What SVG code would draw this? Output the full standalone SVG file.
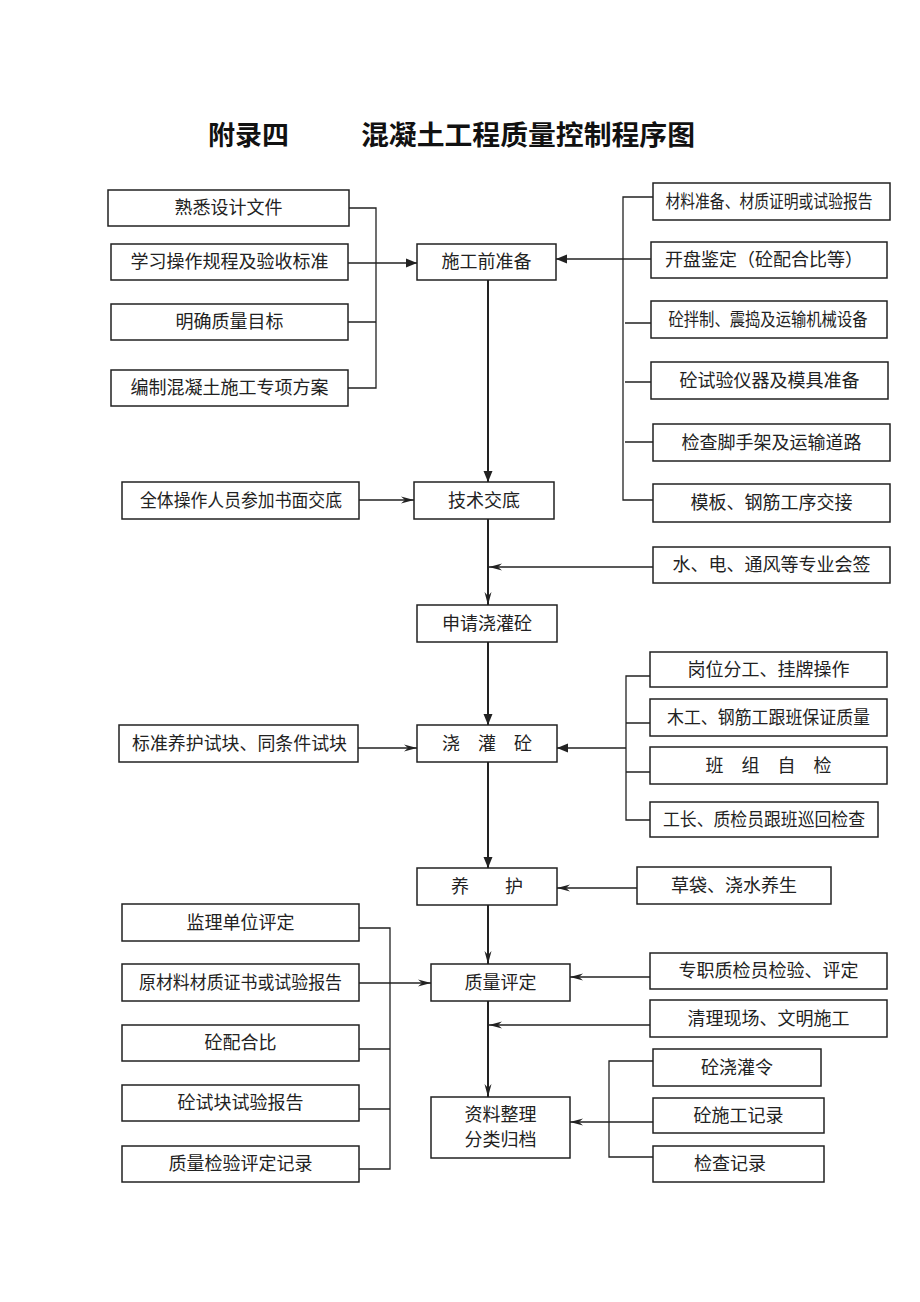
<svg xmlns="http://www.w3.org/2000/svg" width="920" height="1302" viewBox="0 0 920 1302">
<style>
.b{fill:#fff;stroke:#222;stroke-width:1.5}
.t{font-family:"Liberation Serif","Noto Sans CJK SC",serif;font-size:18px;fill:#222;text-anchor:middle}
.h{font-family:"Liberation Serif","Noto Sans CJK SC",serif;font-size:27px;font-weight:bold;fill:#111}
.l{fill:none;stroke:#222;stroke-width:1.3}
.m{fill:none;stroke:#222;stroke-width:2}
.f{marker-end:url(#af)}
.o{marker-end:url(#ao)}
</style>
<defs>
<marker id="af" markerUnits="userSpaceOnUse" markerWidth="12" markerHeight="10" refX="11" refY="5" orient="auto">
<path d="M0,0.5 L11,5 L0,9.5 z" fill="#222"/>
</marker>
<marker id="ao" markerUnits="userSpaceOnUse" markerWidth="14" markerHeight="10" refX="13" refY="5" orient="auto">
<path d="M0,1.5 L13,5 L0,8.5 L4,5 z" fill="#222"/>
</marker>
</defs>
<rect width="920" height="1302" fill="#fff"/>
<g id="title">
<text class="h" x="208" y="145">附录四</text>
<text class="h" x="361" y="145" textLength="334" lengthAdjust="spacingAndGlyphs">混凝土工程质量控制程序图</text>
</g>
<g id="connectors">
<path class="l" d="M349,208 H376 V388 H348 M348,322 H376"/>
<path class="l f" d="M348,263 H417"/>
<path class="l" d="M653,197 H623 V500 H653 M651,323 H625 M651,382 H625 M653,442 H625"/>
<path class="l f" d="M651,259 H556"/>
<path class="m f" d="M488,280 V482"/>
<path class="l o" d="M359,500 H414"/>
<path class="m o" d="M488,519 V605"/>
<path class="l o" d="M653,567 H489"/>
<path class="m f" d="M488,642 V725"/>
<path class="l o" d="M358,748 H417"/>
<path class="l" d="M650,676 H626 V820 H650 M650,723 H626 M650,772 H626"/>
<path class="l f" d="M626,748 H557"/>
<path class="m f" d="M488,762 V868"/>
<path class="l o" d="M637,888 H557"/>
<path class="m o" d="M488,905 V964"/>
<path class="l" d="M359,928 H390 V1169 H359 M359,1049 H390 M359,1109 H390"/>
<path class="l o" d="M359,983 H431"/>
<path class="l o" d="M650,977 H570"/>
<path class="m o" d="M488,1001 V1097"/>
<path class="l o" d="M650,1025 H489"/>
<path class="l" d="M653,1061 H609 V1157 H653"/>
<path class="l o" d="M653,1122 H570"/>
</g>
<g id="n1"><rect class="b" x="108" y="190" width="241" height="36"/><text class="t" x="228.5" y="214">熟悉设计文件</text></g>
<g id="n2"><rect class="b" x="111" y="244" width="237" height="36"/><text class="t" x="229.5" y="268">学习操作规程及验收标准</text></g>
<g id="n3"><rect class="b" x="111" y="304" width="237" height="36"/><text class="t" x="229.5" y="328">明确质量目标</text></g>
<g id="n4"><rect class="b" x="111" y="370" width="237" height="36"/><text class="t" x="229.5" y="394">编制混凝土施工专项方案</text></g>
<g id="n5"><rect class="b" x="417" y="244" width="139" height="36"/><text class="t" x="486.5" y="268">施工前准备</text></g>
<g id="r1"><rect class="b" x="653" y="183" width="237" height="37"/><text class="t" x="769" y="208" textLength="207" lengthAdjust="spacingAndGlyphs">材料准备、材质证明或试验报告</text></g>
<g id="r2"><rect class="b" x="651" y="242" width="236" height="36"/><text class="t" x="764" y="266">开盘鉴定（砼配合比等）</text></g>
<g id="r3"><rect class="b" x="651" y="301" width="236" height="37"/><text class="t" x="768" y="326" textLength="199" lengthAdjust="spacingAndGlyphs">砼拌制、震捣及运输机械设备</text></g>
<g id="r4"><rect class="b" x="651" y="362" width="237" height="37"/><text class="t" x="769.5" y="387">砼试验仪器及模具准备</text></g>
<g id="r5"><rect class="b" x="653" y="424" width="237" height="37"/><text class="t" x="771.5" y="449">检查脚手架及运输道路</text></g>
<g id="r6"><rect class="b" x="653" y="484" width="237" height="38"/><text class="t" x="771.5" y="509">模板、钢筋工序交接</text></g>
<g id="n6"><rect class="b" x="122" y="482" width="237" height="37"/><text class="t" x="241" y="507" textLength="202" lengthAdjust="spacingAndGlyphs">全体操作人员参加书面交底</text></g>
<g id="n7"><rect class="b" x="414" y="482" width="140" height="37"/><text class="t" x="484" y="507">技术交底</text></g>
<g id="r7"><rect class="b" x="653" y="547" width="237" height="36"/><text class="t" x="771.5" y="571">水、电、通风等专业会签</text></g>
<g id="n8"><rect class="b" x="417" y="605" width="140" height="37"/><text class="t" x="487" y="630">申请浇灌砼</text></g>
<g id="r8"><rect class="b" x="650" y="652" width="237" height="35"/><text class="t" x="768.5" y="676">岗位分工、挂牌操作</text></g>
<g id="r9"><rect class="b" x="650" y="699" width="237" height="37"/><text class="t" x="768.5" y="724" textLength="203" lengthAdjust="spacingAndGlyphs">木工、钢筋工跟班保证质量</text></g>
<g id="r10"><rect class="b" x="650" y="747" width="237" height="37"/><text class="t" x="768.5" y="772">班　组　自　检</text></g>
<g id="r11"><rect class="b" x="650" y="802" width="228" height="35"/><text class="t" x="764" y="826" textLength="202" lengthAdjust="spacingAndGlyphs">工长、质检员跟班巡回检查</text></g>
<g id="n9"><rect class="b" x="119" y="725" width="239" height="37"/><text class="t" x="239.5" y="750" textLength="215" lengthAdjust="spacingAndGlyphs">标准养护试块、同条件试块</text></g>
<g id="n10"><rect class="b" x="417" y="725" width="140" height="37"/><text class="t" x="487" y="750">浇　灌　砼</text></g>
<g id="n11"><rect class="b" x="417" y="868" width="140" height="37"/><text class="t" x="487" y="893">养　　护</text></g>
<g id="r12"><rect class="b" x="637" y="867" width="194" height="37"/><text class="t" x="734" y="892">草袋、浇水养生</text></g>
<g id="l1"><rect class="b" x="122" y="904" width="237" height="37"/><text class="t" x="240.5" y="929">监理单位评定</text></g>
<g id="l2"><rect class="b" x="122" y="964" width="237" height="37"/><text class="t" x="240.5" y="989" textLength="203" lengthAdjust="spacingAndGlyphs">原材料材质证书或试验报告</text></g>
<g id="l3"><rect class="b" x="122" y="1025" width="237" height="36"/><text class="t" x="240.5" y="1049">砼配合比</text></g>
<g id="l4"><rect class="b" x="122" y="1085" width="237" height="36"/><text class="t" x="240.5" y="1109">砼试块试验报告</text></g>
<g id="l5"><rect class="b" x="122" y="1146" width="237" height="36"/><text class="t" x="240.5" y="1170">质量检验评定记录</text></g>
<g id="n12"><rect class="b" x="431" y="964" width="139" height="37"/><text class="t" x="500.5" y="989">质量评定</text></g>
<g id="n13"><rect class="b" x="431" y="1097" width="139" height="61"/><text class="t" x="500.5" y="1121">资料整理</text><text class="t" x="500.5" y="1146">分类归档</text></g>
<g id="r13"><rect class="b" x="650" y="953" width="237" height="36"/><text class="t" x="768.5" y="977">专职质检员检验、评定</text></g>
<g id="r14"><rect class="b" x="650" y="1000" width="237" height="37"/><text class="t" x="768.5" y="1025">清理现场、文明施工</text></g>
<g id="r15"><rect class="b" x="653" y="1049" width="168" height="37"/><text class="t" x="737" y="1074">砼浇灌令</text></g>
<g id="r16"><rect class="b" x="653" y="1098" width="171" height="35"/><text class="t" x="738.5" y="1122">砼施工记录</text></g>
<g id="r17"><rect class="b" x="653" y="1146" width="171" height="36"/><text class="t" x="730" y="1170">检查记录</text></g>
</svg>
